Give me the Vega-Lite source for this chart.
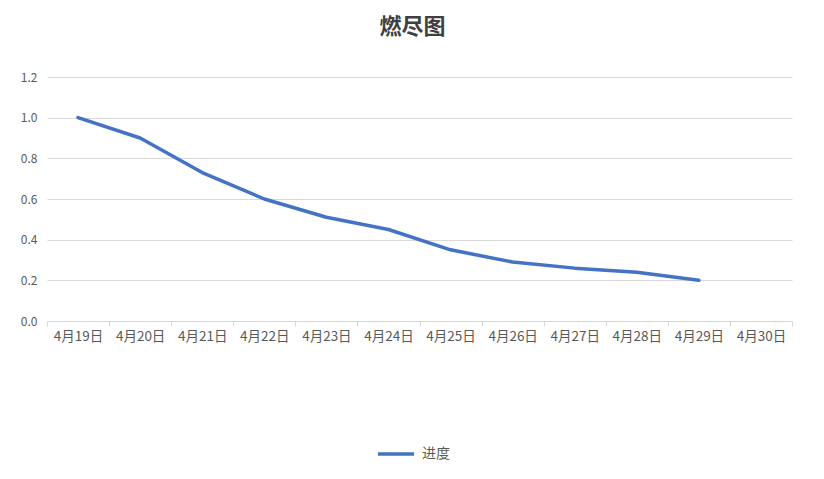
{
  "$schema": "https://vega.github.io/schema/vega-lite/v6.json",
  "autosize": {"type": "none"},
  "padding": {"left": 47, "top": 77, "right": 32, "bottom": 158},
  "width": 745,
  "height": 244,
  "background": "white",
  "title": {
    "text": "燃尽图",
    "font": "Noto Sans CJK SC",
    "fontSize": 22,
    "fontWeight": "bold",
    "color": "#404040",
    "anchor": "middle",
    "offset": 32,
    "dx": -7
  },
  "data": {
    "values": [
      {"date": "4月19日", "series": "进度", "value": 1.0},
      {"date": "4月20日", "series": "进度", "value": 0.9},
      {"date": "4月21日", "series": "进度", "value": 0.73},
      {"date": "4月22日", "series": "进度", "value": 0.6},
      {"date": "4月23日", "series": "进度", "value": 0.51},
      {"date": "4月24日", "series": "进度", "value": 0.45},
      {"date": "4月25日", "series": "进度", "value": 0.35},
      {"date": "4月26日", "series": "进度", "value": 0.29},
      {"date": "4月27日", "series": "进度", "value": 0.26},
      {"date": "4月28日", "series": "进度", "value": 0.24},
      {"date": "4月29日", "series": "进度", "value": 0.2}
    ]
  },
  "mark": {"type": "line", "strokeWidth": 3.5, "strokeCap": "round", "strokeJoin": "round"},
  "encoding": {
    "x": {
      "field": "date",
      "type": "ordinal",
      "bandPosition": 0.5,
      "scale": {
        "type": "band",
        "paddingInner": 0,
        "paddingOuter": 0,
        "domain": ["4月19日", "4月20日", "4月21日", "4月22日", "4月23日", "4月24日", "4月25日", "4月26日", "4月27日", "4月28日", "4月29日", "4月30日"]
      },
      "axis": {
        "title": null,
        "labelAngle": 0,
        "labelFont": "Noto Sans CJK SC",
        "labelFontSize": 13.5,
        "labelColor": "#595959",
        "labelPadding": 3,
        "domainColor": "#d9d9d9",
        "tickColor": "#d9d9d9",
        "tickSize": 5,
        "tickBand": "extent",
        "grid": false
      }
    },
    "y": {
      "field": "value",
      "type": "quantitative",
      "scale": {"domain": [0, 1.2], "nice": false},
      "axis": {
        "title": null,
        "values": [0, 0.2, 0.4, 0.6, 0.8, 1.0, 1.2],
        "format": ".1f",
        "labelFont": "Noto Sans CJK SC",
        "labelFontSize": 12,
        "labelColor": "#595959",
        "labelPadding": 10,
        "domain": false,
        "ticks": false,
        "grid": true,
        "gridColor": "#d9d9d9"
      }
    },
    "color": {
      "field": "series",
      "type": "nominal",
      "scale": {"range": ["#4472C4"]},
      "legend": {
        "title": null,
        "orient": "none",
        "legendX": 329,
        "legendY": 357,
        "symbolType": "stroke",
        "symbolStrokeWidth": 3.5,
        "symbolSize": 1300,
        "labelFont": "Noto Sans CJK SC",
        "labelFontSize": 14,
        "labelColor": "#595959",
        "labelOffset": 6
      }
    }
  },
  "config": {
    "view": {"stroke": null}
  }
}
